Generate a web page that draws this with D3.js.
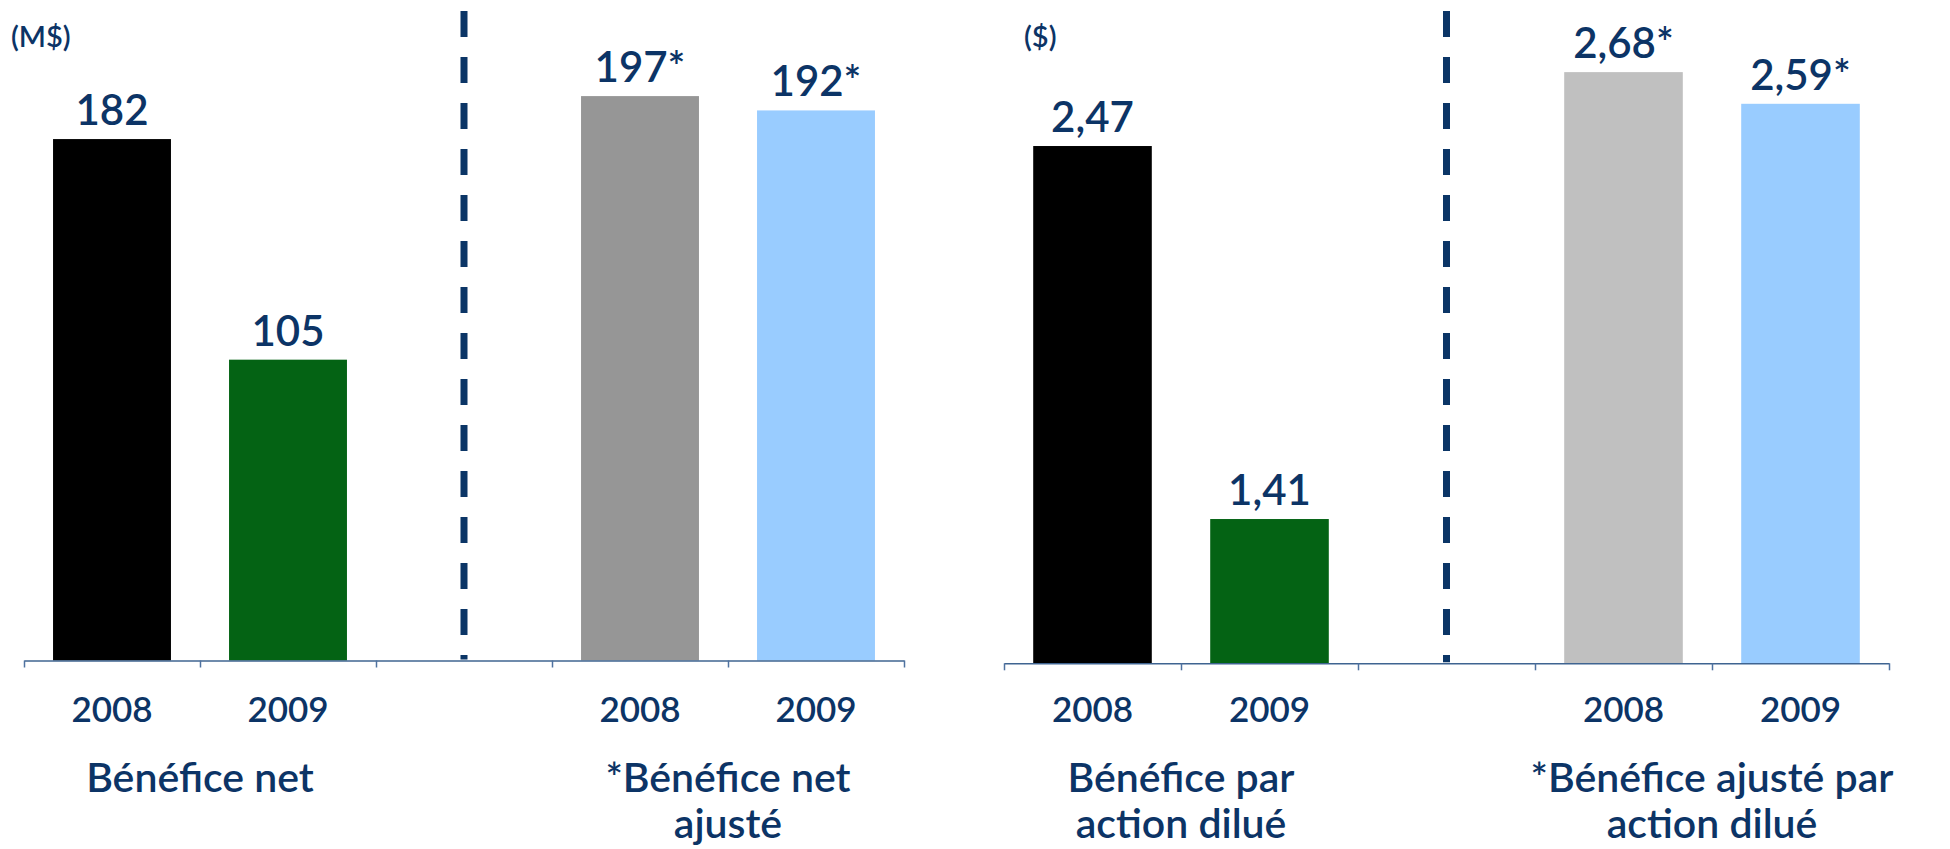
<!DOCTYPE html>
<html>
<head>
<meta charset="utf-8">
<script src="https://cdn.jsdelivr.net/npm/d3@7"></script>
<style>
  html, body { margin: 0; padding: 0; background: #ffffff; }
  svg { display: block; }
</style>
</head>
<body>
<svg id="chart" width="1950" height="849"></svg>
<script>
// data
var years = ['2008', '2009'];
var netIncome = [182, 105];
var netIncomeAdjusted = [197, 192];
var eps = [2.47, 1.41];
var epsAdjusted = [2.68, 2.59];
var units = ['(M$)', '($)'];
var groupTitles = [
  [['Bénéfice net'], ['*Bénéfice net', 'ajusté']],
  [['Bénéfice par', 'action dilué'], ['*Bénéfice ajusté par', 'action dilué']]
];

// styles
var reportedColors = ['#000000', '#046314'];
var adjustedColors = [['#969696', '#99ccff'], ['#c0c0c0', '#99ccff']];
var textColor = '#0c3466';
var fontFamily = 'Lato, "Open Sans", sans-serif';
var textWeight = 600;

var fr = d3.formatLocale({ decimal: ',', thousands: ' ', grouping: [3], currency: ['', ' $'] });

var svg = d3.select('#chart');
var width = +svg.attr('width');
var height = +svg.attr('height');

svg.append('rect')
  .attr('width', width)
  .attr('height', height)
  .style('fill', '#ffffff');

var slots = ['r0', 'r1', 'gap', 'a0', 'a1'];

var panels = [
  {
    unit: units[0], reported: netIncome, adjusted: netIncomeAdjusted, titles: groupTitles[0],
    colors: adjustedColors[0], fmt: d3.format('d'),
    domain: [0, 200], x0: 24, x1: 904, axisY: 660.5, top: 87.5, unitX: 11
  },
  {
    unit: units[1], reported: eps, adjusted: epsAdjusted, titles: groupTitles[1],
    colors: adjustedColors[1], fmt: fr.format('.2f'),
    domain: [1, 2.8], x0: 1004, x1: 1889, axisY: 663.3, top: 29.9, unitX: 1024
  }
];

panels.forEach(function(p) {
  var x = d3.scaleBand()
    .domain(slots)
    .range([p.x0, p.x1])
    .paddingInner(0.33)
    .paddingOuter(0.165);
  var edges = d3.scaleLinear()
    .domain([0, slots.length])
    .range([p.x0, p.x1]);
  var y = d3.scaleLinear()
    .domain(p.domain)
    .range([p.axisY, p.top]);

  var bars = [];
  years.forEach(function(yr, i) {
    bars.push({ slot: 'r' + i, year: yr, value: p.reported[i], label: p.fmt(p.reported[i]), color: reportedColors[i] });
  });
  years.forEach(function(yr, i) {
    bars.push({ slot: 'a' + i, year: yr, value: p.adjusted[i], label: p.fmt(p.adjusted[i]) + '*', color: p.colors[i] });
  });

  var g = svg.append('g');

  // unit label
  g.append('text')
    .attr('x', p.unitX)
    .attr('y', 47)
    .style('font-family', fontFamily)
    .style('font-size', '29px')
    .style('font-weight', textWeight)
    .style('fill', textColor)
    .text(p.unit);

  // dashed separator between reported and adjusted
  g.append('line')
    .attr('x1', x('gap') + x.bandwidth() / 2)
    .attr('x2', x('gap') + x.bandwidth() / 2)
    .attr('y1', 11)
    .attr('y2', p.axisY - 1)
    .style('stroke', '#0b3566')
    .style('stroke-width', 7)
    .style('stroke-dasharray', '26,20');

  g.selectAll('.bar')
    .data(bars)
    .enter().append('rect')
    .attr('class', 'bar')
    .attr('x', function(d) { return x(d.slot); })
    .attr('y', function(d) { return y(d.value); })
    .attr('width', x.bandwidth())
    .attr('height', function(d) { return y(p.domain[0]) - y(d.value); })
    .style('fill', function(d) { return d.color; });

  g.selectAll('.value-label')
    .data(bars)
    .enter().append('text')
    .attr('class', 'value-label')
    .attr('x', function(d) { return x(d.slot) + x.bandwidth() / 2; })
    .attr('y', function(d) { return y(d.value) - 14; })
    .style('text-anchor', 'middle')
    .style('font-family', fontFamily)
    .style('font-size', '42px')
    .style('font-weight', textWeight)
    .style('fill', textColor)
    .text(function(d) { return d.label; });

  // axis with ticks on the slot edges
  var axis = g.append('g')
    .attr('transform', 'translate(0,' + p.axisY + ')')
    .call(d3.axisBottom(edges)
      .tickValues(d3.range(slots.length + 1))
      .tickSize(7)
      .tickSizeOuter(0));
  axis.selectAll('.tick text').remove();
  axis.select('.domain')
    .style('stroke', '#3f6491')
    .style('stroke-width', 1.5);
  axis.selectAll('.tick line')
    .style('stroke', '#4f72a0')
    .style('stroke-width', 1.5);

  g.selectAll('.year-label')
    .data(bars)
    .enter().append('text')
    .attr('class', 'year-label')
    .attr('x', function(d) { return x(d.slot) + x.bandwidth() / 2; })
    .attr('y', 722)
    .style('text-anchor', 'middle')
    .style('font-family', fontFamily)
    .style('font-size', '35px')
    .style('font-weight', textWeight)
    .style('fill', textColor)
    .text(function(d) { return d.year; });

  var titles = g.selectAll('.group-title')
    .data(p.titles)
    .enter().append('text')
    .attr('class', 'group-title')
    .attr('x', function(d, i) { return edges(i === 0 ? 1 : 4); })
    .attr('y', 792)
    .style('text-anchor', 'middle')
    .style('font-family', fontFamily)
    .style('font-size', '41px')
    .style('font-weight', textWeight)
    .style('fill', textColor);

  titles.selectAll('tspan')
    .data(function(d) { return d; })
    .enter().append('tspan')
    .attr('x', function() { return d3.select(this.parentNode).attr('x'); })
    .attr('dy', function(d, i) { return i === 0 ? 0 : 46; })
    .text(function(d) { return d; });
});
</script>
</body>
</html>
